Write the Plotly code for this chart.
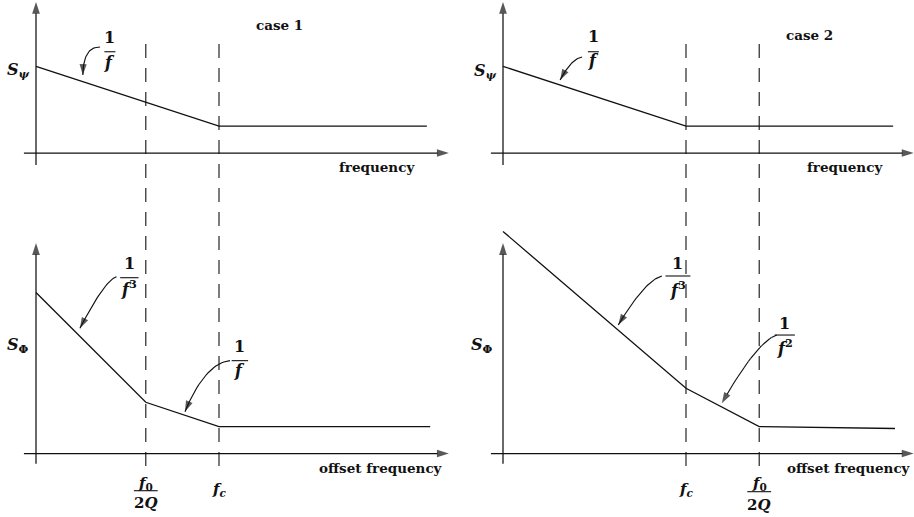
import plotly.graph_objects as go

# ---- spectrum corners: x in decades from the vertical axis, y in dB above the floor axis ----
case1_psi_x = [0.0, 5.0, 10.68]
case1_psi_y = [71.0, 22.0, 22.0]
case1_phi_x = [0.0, 3.0, 5.0, 10.77]
case1_phi_y = [132.0, 42.0, 22.0, 22.0]

case2_psi_x = [0.0, 5.0, 10.66]
case2_psi_y = [71.0, 22.0, 22.0]
case2_phi_x = [0.0, 5.0, 7.0, 10.71]
case2_phi_y = [182.0, 53.5, 22.0, 20.5]

# corner frequencies marked with dashed guides
case1_corners = [3.0, 5.0]          # f0/2Q, fc
case2_corners = [5.0, 7.0]          # fc, f0/2Q

W, H = 914, 517
FONT = "DejaVu Serif"
INK = "#111111"

# pixel geometry of the panels
PX_X = 36.6     # pixels per decade
PX_Y = 1.22     # pixels per dB
ORIGIN_X = {"x": 36.0, "x2": 503.0}
ORIGIN_Y = {"y": 153.0, "y2": 453.5}
DOM_X = {"x": (0.0, 0.5), "x2": (0.5, 1.0)}
DOM_Y = {"y": (0.5, 1.0), "y2": (0.0, 0.6)}


def xrange_of(ax):
    d0, d1 = DOM_X[ax]
    return [(d0 * W - ORIGIN_X[ax]) / PX_X, (d1 * W - ORIGIN_X[ax]) / PX_X]


def yrange_of(ax):
    d0, d1 = DOM_Y[ax]
    top_px = (1 - d1) * H
    bot_px = (1 - d0) * H
    return [(ORIGIN_Y[ax] - bot_px) / PX_Y, (ORIGIN_Y[ax] - top_px) / PX_Y]


fig = go.Figure()

panels = [
    ("x", "y", case1_psi_x, case1_psi_y),
    ("x", "y2", case1_phi_x, case1_phi_y),
    ("x2", "y", case2_psi_x, case2_psi_y),
    ("x2", "y2", case2_phi_x, case2_phi_y),
]
for xa, ya, xs, ys in panels:
    fig.add_trace(go.Scatter(x=xs, y=ys, xaxis=xa, yaxis=ya, mode="lines",
                             line=dict(color=INK, width=1.3), hoverinfo="skip"))

annotations = []
shapes = []


def arrow_path(xr, yr, xs, ys, head=12.5, width=1.25):
    """Polyline ending in a filled arrow head at its last point."""
    n = len(xs)
    fig.add_trace(go.Scatter(
        x=xs, y=ys, xaxis=xr, yaxis=yr, mode="lines+markers",
        line=dict(color=INK, width=width),
        marker=dict(symbol=["circle"] * (n - 1) + ["arrow"],
                    size=[0] * (n - 1) + [head], angleref="previous",
                    color=INK, line=dict(width=0)),
        hoverinfo="skip", cliponaxis=False))


def leader(xr, yr, start, ctrl, end, steps=24):
    xs, ys = [], []
    for i in range(steps + 1):
        t = i / steps
        a, b, c = (1 - t) ** 2, 2 * (1 - t) * t, t ** 2
        xs.append(a * start[0] + b * ctrl[0] + c * end[0])
        ys.append(a * start[1] + b * ctrl[1] + c * end[1])
    arrow_path(xr, yr, xs, ys, head=11.5, width=1.15)


def label(xr, yr, x, y, text, size=15, xanchor="center", weight="normal"):
    annotations.append(dict(
        x=x, y=y, xref=xr, yref=yr, text=text, showarrow=False,
        xanchor=xanchor, yanchor="middle",
        font=dict(family=FONT, size=size, color=INK, weight=weight)))


def fraction(xr, yr, x, y_num, y_bar, y_den, num, den, width, size=16):
    label(xr, yr, x, y_num, num, size, weight="bold")
    label(xr, yr, x, y_den, den, size, weight="bold")
    shapes.append(dict(type="line", xref=xr, yref=yr,
                       x0=x - width / 2, x1=x + width / 2, y0=y_bar, y1=y_bar,
                       line=dict(color=INK, width=1.1)))


# coordinate axes with arrow tips
for xa in ("x", "x2"):
    x_tip = 11.28 if xa == "x" else 11.22
    arrow_path(xa, "y", [-0.33, x_tip], [0.0, 0.0])
    arrow_path(xa, "y", [0.0, 0.0], [-9.8, 123.8])
    arrow_path(xa, "y2", [-0.33, x_tip], [0.0, 0.0])
    arrow_path(xa, "y2", [0.0, 0.0], [-8.5, 172.5])

# dashed guides through both panels of each case
for xa, corners in (("x", case1_corners), ("x2", case2_corners)):
    for c in corners:
        shapes.append(dict(type="line", xref=xa, yref="paper", x0=c, x1=c,
                           y0=(H - 466) / H, y1=(H - 41) / H,
                           line=dict(color=INK, width=1.1, dash="14px,10px")))

# axis names and titles
WORD = 13.5
label("x", "y", 6.64, 104.9, "case 1", size=WORD, weight="bold")
label("x2", "y", 8.37, 96.7, "case 2", size=WORD, weight="bold")
label("x", "y", 10.4, -11.2, "frequency", size=WORD, xanchor="right", weight="bold")
label("x2", "y", 10.44, -11.2, "frequency", size=WORD, xanchor="right", weight="bold")
label("x", "y2", 11.17, -12.1, "offset frequency", size=WORD, xanchor="right", weight="bold")
label("x2", "y2", 11.21, -12.1, "offset frequency", size=WORD, xanchor="right", weight="bold")
label("x", "y", -0.11, 68.0, "<i>S</i><sub><i>ψ</i></sub>", size=16, xanchor="right", weight="bold")
label("x2", "y", -0.11, 66.6, "<i>S</i><sub><i>ψ</i></sub>", size=16, xanchor="right", weight="bold")
label("x", "y2", -0.14, 88.9, "<i>S</i><sub>Φ</sub>", size=16, xanchor="right", weight="bold")
label("x2", "y2", -0.22, 88.9, "<i>S</i><sub>Φ</sub>", size=16, xanchor="right", weight="bold")

# corner-frequency tick labels
F0 = "<i>f</i><sub>0</sub>"
TWO_Q = "2<i>Q</i>"
FC = "<i>f<sub>c</sub></i>"
fraction("x", "y2", case1_corners[0], -24.4, -30.5, -40.8, F0, TWO_Q, 0.65, size=15)
label("x", "y2", case1_corners[1], -29.9, FC, size=15, weight="bold")
label("x2", "y2", case2_corners[0], -29.9, FC, size=15, weight="bold")
fraction("x2", "y2", case2_corners[1], -24.4, -31.3, -42.2, F0, TWO_Q, 0.65, size=15)

# slope labels with curved leaders
F = "<i>f</i>"
fraction("x", "y", 2.02, 94.7, 83.0, 74.0, "1", F, 0.3)
leader("x", "y", (1.75, 86.9), (1.29, 87.1), (1.28, 63.9))

fraction("x2", "y", 2.47, 95.3, 83.0, 75.6, "1", F, 0.3)
leader("x2", "y", (2.16, 78.7), (1.88, 77.6), (1.56, 59.8))

fraction("x", "y2", 2.55, 155.9, 144.1, 135.4, "1", "<i>f</i><sup>3</sup>", 0.5)
leader("x", "y2", (2.2, 144.9), (1.885, 142.2), (1.2, 102.6))

fraction("x", "y2", 5.57, 87.5, 76.1, 68.4, "1", F, 0.45)
leader("x", "y2", (5.3, 76.1), (4.62, 73.9), (4.07, 34.3))

fraction("x2", "y2", 4.78, 155.9, 145.5, 135.0, "1", "<i>f</i><sup>3</sup>", 0.68)
leader("x2", "y2", (4.34, 145.5), (3.88, 141.8), (3.15, 105.3))

fraction("x2", "y2", 7.7, 106.7, 97.1, 87.5, "1", "<i>f</i><sup>2</sup>", 0.55)
leader("x2", "y2", (7.48, 97.1), (6.93, 91.6), (5.98, 41.2))

hidden = dict(visible=False, showgrid=False, zeroline=False, fixedrange=True)
fig.update_layout(
    width=W, height=H, margin=dict(l=0, r=0, t=0, b=0, pad=0),
    paper_bgcolor="white", plot_bgcolor="rgba(0,0,0,0)", showlegend=False,
    xaxis=dict(domain=list(DOM_X["x"]), range=xrange_of("x"), anchor="y", **hidden),
    xaxis2=dict(domain=list(DOM_X["x2"]), range=xrange_of("x2"), anchor="y", **hidden),
    yaxis=dict(domain=list(DOM_Y["y"]), range=yrange_of("y"), anchor="x", **hidden),
    yaxis2=dict(domain=list(DOM_Y["y2"]), range=yrange_of("y2"), anchor="x", **hidden),
    annotations=annotations, shapes=shapes,
)

fig.write_html("out.html")
